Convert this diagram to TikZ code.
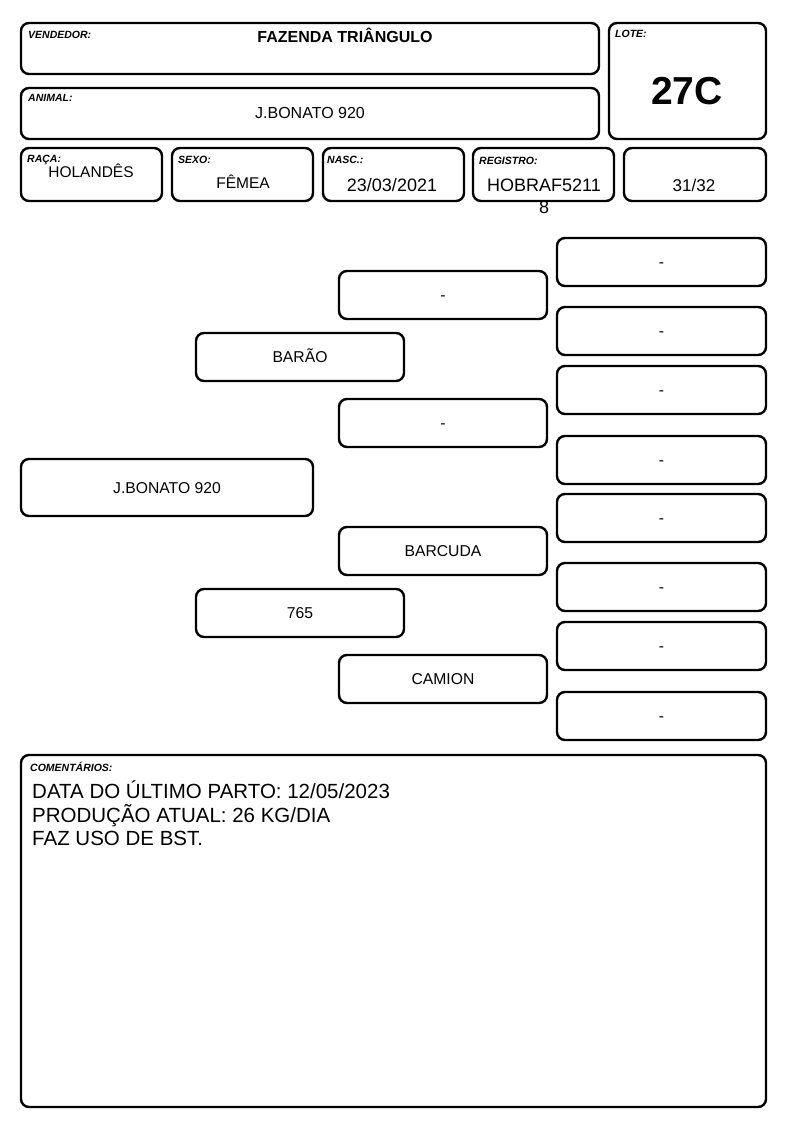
\documentclass[tikz,border=0pt]{standalone}
\usepackage{fontspec}
\setmainfont{Liberation Sans}
\begin{document}
\begin{tikzpicture}[x=1pt,y=-1pt,
  box/.style={draw,line width=2.4pt,rounded corners=8pt},
  lbl/.style={anchor=base west,inner sep=0pt,font=\fontsize{10.5}{12}\selectfont\bfseries\itshape},
  val/.style={anchor=base,inner sep=0pt,font=\fontsize{16}{18}\selectfont},
  cmt/.style={anchor=base west,inner sep=0pt,font=\fontsize{20.5}{23.5}\selectfont},
  ped/.style={draw,line width=2.4pt,rounded corners=8pt,inner sep=0pt,text height=11.3pt,text depth=0pt,font=\fontsize{15.7}{17}\selectfont}]
\useasboundingbox[fill=white] (0,0) rectangle (794,1123);
% header boxes
\draw[box] (21,23) rectangle (599,74);
\draw[box] (21,88) rectangle (599,139);
\draw[box] (609,23) rectangle (766,139);
\draw[box] (21,148) rectangle (162,201);
\draw[box] (172,148) rectangle (313,201);
\draw[box] (323,148) rectangle (464,201);
\draw[box] (473,148) rectangle (614,201);
\draw[box] (624,148) rectangle (766,201);
\node[lbl] (lv) at (28,39) {VENDEDOR:};
\node[val,font=\fontsize{16}{18}\selectfont\bfseries] (tv) at (345,43) {FAZENDA TRIÂNGULO};
\node[lbl] (la) at (28,102) {ANIMAL:};
\node[val] (ta) at (310,119) {J.BONATO 920};
\node[lbl] (ll) at (615,38) {LOTE:};
\node[val,font=\fontsize{39}{40}\selectfont\bfseries] (tl) at (687,105) {27C};
\node[lbl] (lr) at (27,163) {RAÇA:};
\node[val,font=\fontsize{15.5}{17}\selectfont] (tr) at (91,178) {HOLANDÊS};
\node[lbl] (ls) at (178,164) {SEXO:};
\node[val,font=\fontsize{15.5}{17}\selectfont] (ts) at (243,189) {FÊMEA};
\node[lbl] (ln) at (327,164) {NASC.:};
\node[val,font=\fontsize{18}{20}\selectfont] (tn) at (392,192) {23/03/2021};
\node[lbl] (lg) at (479,165) {REGISTRO:};
\node[val,font=\fontsize{18}{20}\selectfont] (tg) at (544,192) {HOBRAF5211};
\node[val,font=\fontsize{18}{20}\selectfont] (tg2) at (544,214) {8};
\node[val,font=\fontsize{17}{19}\selectfont] (tx) at (694,192) {31/32};
% pedigree
\node[ped,minimum width=292pt,minimum height=57pt] (p0) at (167,487.5) {J.BONATO 920};
\node[ped,minimum width=208pt,minimum height=48pt] (p1) at (300,357) {BARÃO};
\node[ped,minimum width=208pt,minimum height=48pt] (p2) at (300,613) {765};
\node[ped,minimum width=208pt,minimum height=48pt] (p3) at (443,295) {-};
\node[ped,minimum width=208pt,minimum height=48pt] (p4) at (443,423) {-};
\node[ped,minimum width=208pt,minimum height=48pt] (p5) at (443,551) {BARCUDA};
\node[ped,minimum width=208pt,minimum height=48pt] (p6) at (443,679) {CAMION};
\foreach \n/\y in {1/262,2/331,3/390,4/460,5/518,6/587,7/646,8/716}{
  \node[ped,minimum width=209pt,minimum height=48pt] (q\n) at (661.5,\y) {-};
}
% comments
\draw[box] (21,755) rectangle (766,1107);
\node[lbl] (lc) at (30,771) {COMENTÁRIOS:};
\node[cmt] (c1) at (32,798) {DATA DO ÚLTIMO PARTO: 12/05/2023};
\node[cmt] (c2) at (32,822) {PRODUÇÃO ATUAL: 26 KG/DIA};
\node[cmt] (c3) at (32,845.5) {FAZ USO DE BST.};
\end{tikzpicture}
\end{document}
